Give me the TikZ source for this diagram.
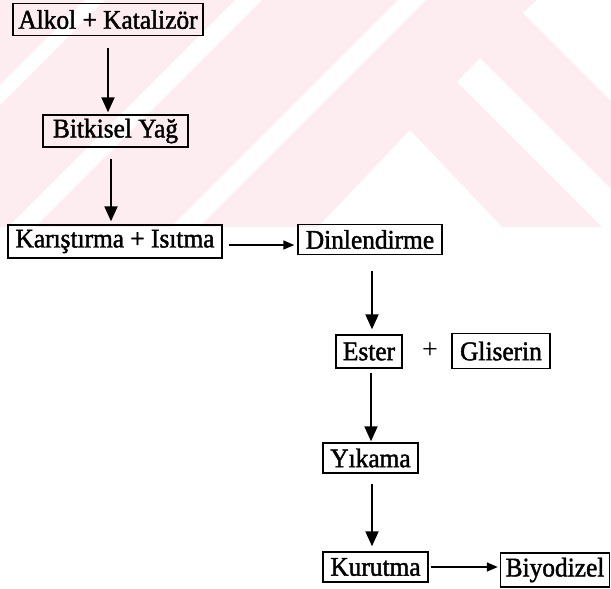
\documentclass[tikz,border=0pt]{standalone}
\usepackage{fontspec}
\setmainfont{Liberation Serif}
\newfontfamily\diagfont[FakeStretch=0.94,FakeBold=1.6]{Liberation Serif}
\newfontfamily\plusfont{Liberation Serif}
\usetikzlibrary{arrows.meta}
\definecolor{wmpink}{RGB}{253,237,241}
\begin{document}
\begin{tikzpicture}[x=1pt,y=-1pt,
  box/.style={draw, line width=1.4pt, inner sep=0pt, align=center,
    font=\diagfont\fontsize{27}{30}\selectfont},
  lbl/.style={inner sep=0pt, font=\plusfont\fontsize{28}{30}\selectfont},
  varr/.style={line width=2pt, -{Triangle[length=15pt,width=13pt]}},
  harr/.style={line width=1.4pt, -{Triangle[length=11pt,width=9pt]}}]
\useasboundingbox (0,0) rectangle (611,589);
% watermark
\begin{scope}
  \clip (0,0) rectangle (611,227);
  \fill[wmpink] (0,0) rectangle (611,227);
  \fill[white] (85,0) -- (105,0) -- (-195,300) -- (-215,300) -- cycle;
  \fill[white] (235,0) -- (262,0) -- (-38,300) -- (-65,300) -- cycle;
  \fill[white] (398,0) -- (426,0) -- (126,300) -- (98,300) -- cycle;
  \fill[white] (318,227) -- (410,130) -- (502,227) -- cycle;
  \fill[white] (480,58) -- (780,358) -- (757,382) -- (457,82) -- cycle;
  \fill[white] (537,0) -- (700,0) -- (700,190) -- (523,13) -- cycle;
\end{scope}
% nodes
\node[box, minimum width=190pt, minimum height=32pt] (alkol) at (108,19.5) {Alkol + Katalizör};
\node[box, minimum width=145pt, minimum height=32pt] (bitkisel) at (115.5,131) {Bitkisel Yağ};
\node[box, minimum width=214pt, minimum height=33pt] (karis) at (115,241.5) {Karıştırma + Isıtma};
\node[box, minimum width=144pt, minimum height=30pt] (dinlen) at (370,239.5) {Dinlendirme};
\node[box, minimum width=66pt, minimum height=33pt] (ester) at (369,351.5) {Ester};
\node[lbl] (plus) at (430,351) {+};
\node[box, minimum width=98pt, minimum height=35pt] (gliserin) at (501,351) {Gliserin};
\node[box, minimum width=95pt, minimum height=30pt] (yikama) at (370.5,458) {Yıkama};
\node[box, minimum width=105pt, minimum height=30pt] (kurutma) at (375.5,567) {Kurutma};
\node[box, minimum width=109pt, minimum height=34pt] (biyodizel) at (555,570) {Biyodizel};
% connectors
\draw[varr] ([yshift=-12pt]alkol.south) -- ([yshift=2pt]alkol.south |- bitkisel.north);
\draw[varr] ([xshift=-4.5pt,yshift=-11pt]bitkisel.south) -- ([xshift=-4.5pt,yshift=3pt]bitkisel.south |- karis.north);
\draw[harr] ([xshift=6pt,yshift=-3.5pt]karis.east) -- ([xshift=-3pt,yshift=-3.5pt]karis.east -| dinlen.west);
\draw[varr] ([xshift=2pt,yshift=-16pt]dinlen.south) -- ([xshift=2pt,yshift=5pt]dinlen.south |- ester.north);
\draw[varr] ([xshift=2pt,yshift=-4pt]ester.south) -- ([xshift=2pt,yshift=1pt]ester.south |- yikama.north);
\draw[varr] ([xshift=1.5pt,yshift=-10pt]yikama.south) -- ([xshift=1.5pt,yshift=5pt]yikama.south |- kurutma.north);
\draw[harr] ([xshift=2pt]kurutma.east) -- ([xshift=-2pt]kurutma.east -| biyodizel.west);
\end{tikzpicture}
\end{document}
